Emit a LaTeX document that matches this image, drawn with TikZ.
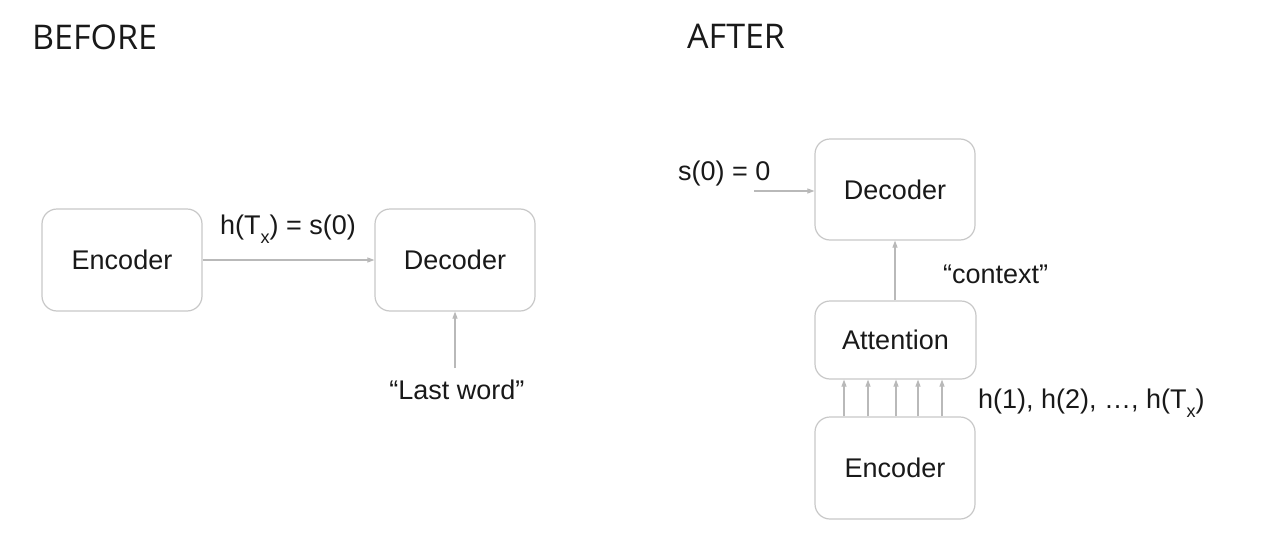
\documentclass[tikz,border=0pt]{standalone}
\usepackage{fontspec}
\setmainfont{Liberation Sans}
\newfontfamily\titlefont{Open Sans}
\usetikzlibrary{arrows.meta}
\definecolor{boxgray}{RGB}{200,200,200}
\definecolor{arrgray}{RGB}{185,185,185}
\definecolor{txt}{RGB}{25,25,25}
\newcommand\subx{\raisebox{-0.35em}{\fontsize{18}{18}\selectfont x}}
\tikzset{
  box/.style={draw=boxgray, line width=1.2pt, rounded corners=15pt, minimum width=160pt, minimum height=102pt, inner sep=0pt, text=txt, font=\fontsize{27}{27}\selectfont},
  lbl/.style={inner sep=0pt, text=txt, font=\fontsize{27}{27}\selectfont},
  ttl/.style={inner sep=0pt, text=txt, font=\titlefont\fontsize{34}{34}\selectfont},
  conn/.style={draw=arrgray, line width=1.1pt, -{Triangle[length=7pt,width=5pt]}}
}
\begin{document}
\begin{tikzpicture}[x=1pt,y=-1pt]
\useasboundingbox (0,0) rectangle (1261,546);
\fill[white] (0,0) rectangle (1261,546);
% titles
\node[ttl, anchor=base west] (before) at (32,49) {BEFORE};
\node[ttl, anchor=base west] (after) at (687,48) {AFTER};
% before
\node[box] (enc1) at (122,260) {Encoder};
\node[box] (dec1) at (455,260) {Decoder};
\draw[conn] (enc1.east) -- (dec1.west);
\node[lbl, anchor=base west] (hT) at (220,234) {h(T\subx) = s(0)};
\node[lbl, anchor=base] (last) at (457,399) {“Last word”};
\coordinate (lastin) at (455,368);
\draw[conn] (lastin) -- (dec1.south);
% after
\node[box, minimum height=101pt] (dec2) at (895,189.5) {Decoder};
\node[box, minimum height=78pt, minimum width=161pt] (att) at (895.5,340) {Attention};
\node[box] (enc2) at (895,468) {Encoder};
\node[lbl, anchor=base west] (s0) at (678,180) {s(0) = 0};
\coordinate (s0in) at (754,191);
\draw[conn] (s0in) -- (dec2.west |- s0in);
\draw[conn] (att.north -| 895,0) -- (dec2.south -| 895,0);
\node[lbl, anchor=base west] (ctx) at (943,283) {“context”};
\foreach \xx in {844,868,896,918,942}{
  \draw[conn] (enc2.north -| \xx,0) -- (att.south -| \xx,0);
}
\node[lbl, anchor=base west] (hs) at (978,408) {h(1), h(2), …, h(T\subx)};
\end{tikzpicture}
\end{document}
